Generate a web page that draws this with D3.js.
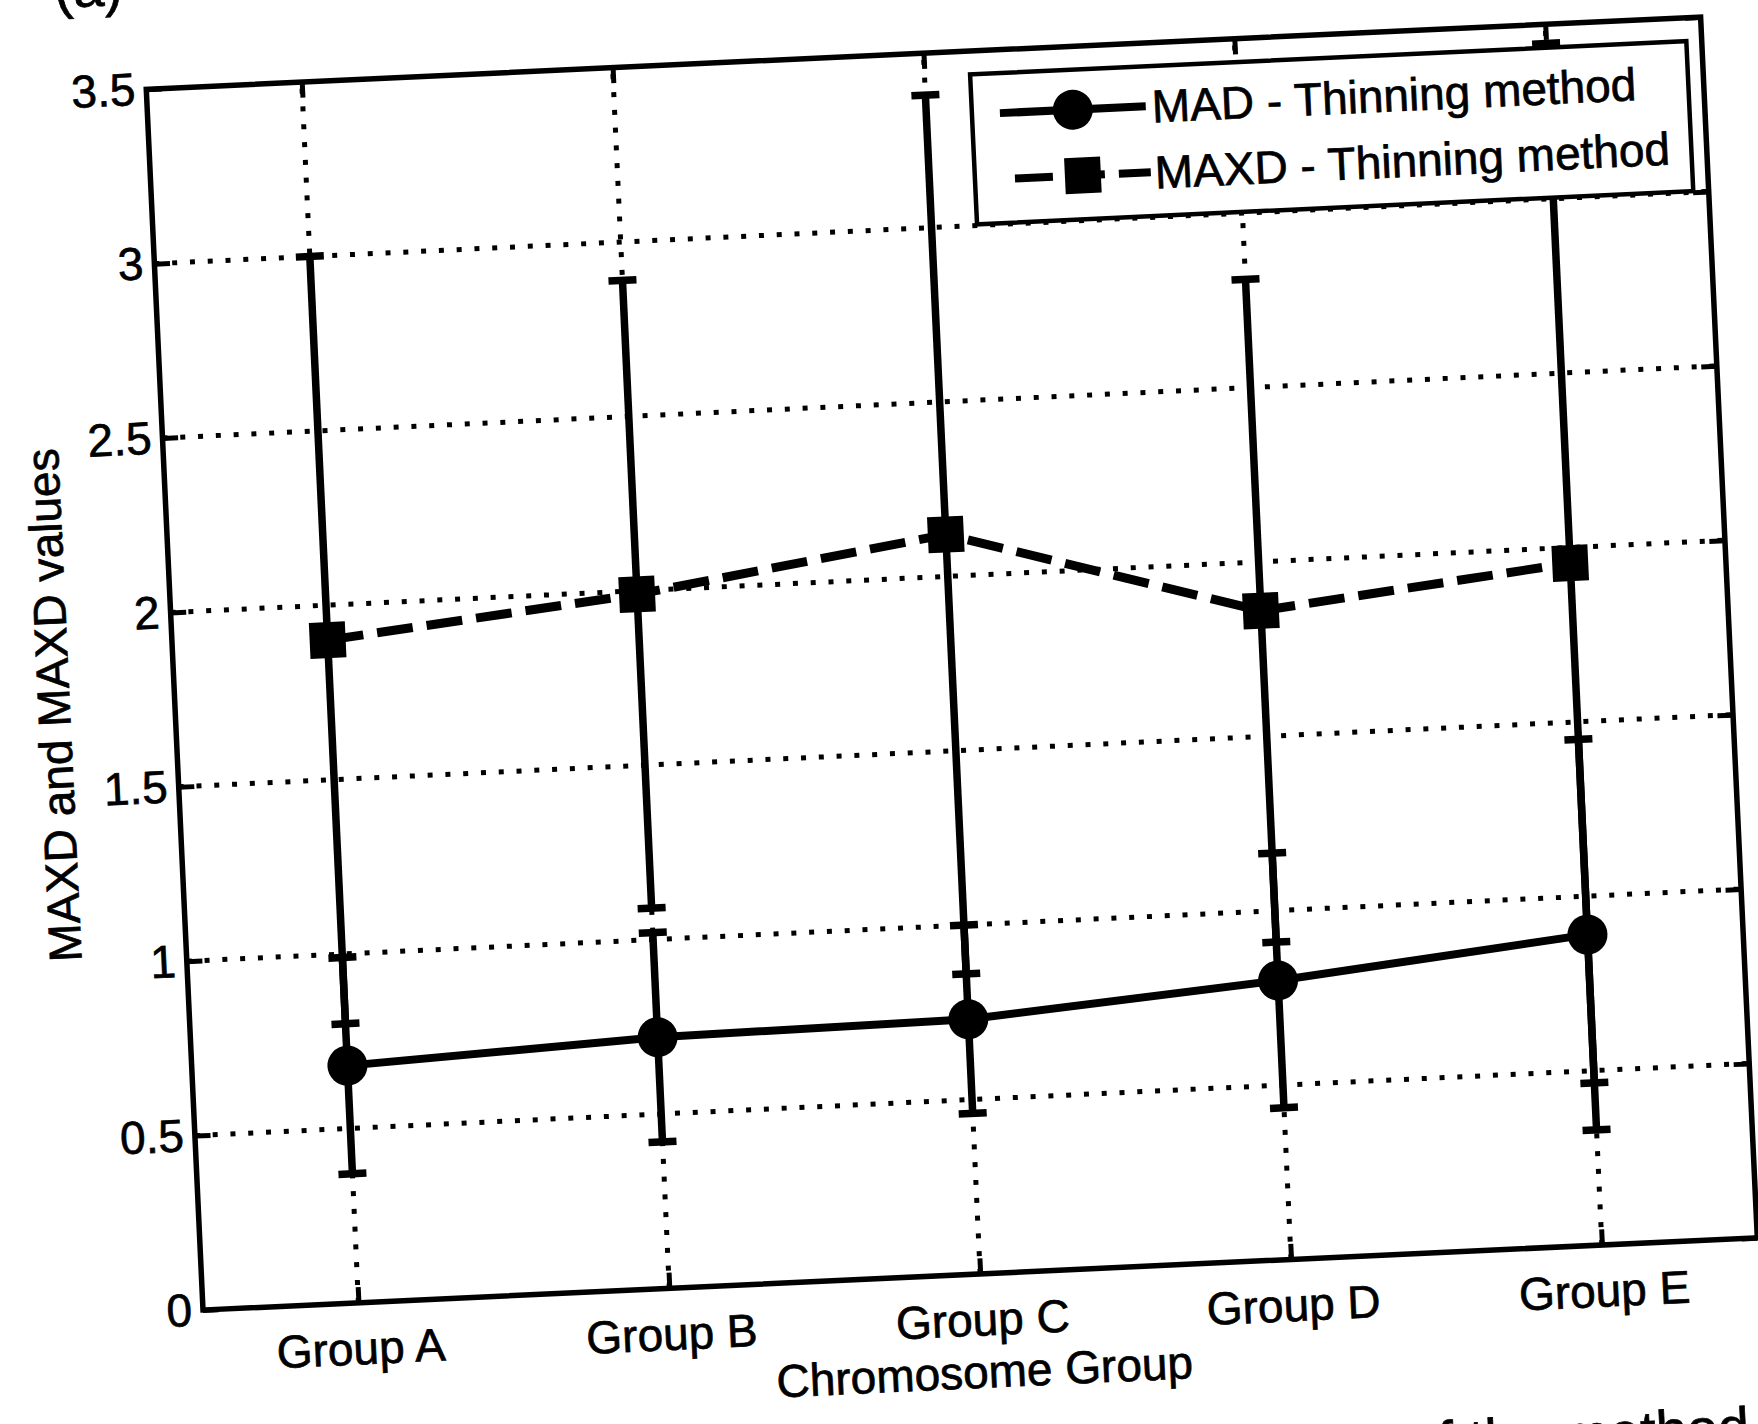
<!DOCTYPE html>
<html>
<head>
<meta charset="utf-8">
<script src="https://cdn.jsdelivr.net/npm/d3@7"></script>
<style>
  html, body { margin: 0; padding: 0; background: #fff; }
  svg { display: block; }
  text { font-family: "Liberation Sans", Arial, Helvetica, sans-serif; fill: #000;
         stroke: #000; stroke-width: 0.7px; }
</style>
</head>
<body>
<svg id="chart" width="1758" height="1424"></svg>
<script>
// ---- data ----
const groups    = ["Group A", "Group B", "Group C", "Group D", "Group E"];
const madMean   = [0.68, 0.72, 0.73, 0.80, 0.89];
const madErr    = [0.31, 0.30, 0.27, 0.365, 0.56];
const maxdMean  = [1.90, 1.99, 2.12, 1.86, 1.955];
const maxdErr   = [1.10, 0.90, 1.26, 0.95, 1.49];
const yTicks    = [0, 0.5, 1, 1.5, 2, 2.5, 3, 3.5];
const yTickText = ["0", "0.5", "1", "1.5", "2", "2.5", "3", "3.5"];
const seriesNames = ["MAD - Thinning method", "MAXD - Thinning method"];
const xTitle = "Chromosome Group";
const yTitle = "MAXD and MAXD values";
const panelTag = "(a)";
const captionTail = "of the method";

// ---- layout ----
const W = 1556, H = 1222;          // plot box
const ox = 203, oy = 1310;         // bottom-left corner of the box on the page
const tilt = -2.66;                // the printed figure sits slightly rotated
const tickLen = 15.6;
const fontSize = 46;

const svg = d3.select("#chart");
svg.append("rect").attr("width", 1758).attr("height", 1424).attr("fill", "#fff");

const g = svg.append("g")
  .attr("transform", `rotate(${tilt},${ox},${oy}) translate(${ox},${oy - H})`);

const x = d3.scaleLinear().domain([0.5, 5.5]).range([0, W]);
const y = d3.scaleLinear().domain([0, 3.5]).range([H, 0]);
const xIdx = groups.map((_, i) => i + 1);

// ---- dotted grid ----
const grid = g.append("g").attr("stroke", "#000").attr("stroke-width", 5)
  .attr("stroke-dasharray", "5 12.8").attr("fill", "none");
grid.selectAll("line.gy").data(yTicks.filter(v => v > 0 && v < 3.5)).join("line")
  .attr("class", "gy")
  .attr("x1", 0).attr("x2", W)
  .attr("y1", d => y(d)).attr("y2", d => y(d));
grid.selectAll("line.gx").data(xIdx).join("line")
  .attr("class", "gx")
  .attr("x1", d => x(d)).attr("x2", d => x(d))
  .attr("y1", H).attr("y2", 0);

// ---- axes (ticks pointing inward on all four sides) ----
function styleAxis(sel) {
  sel.select(".domain").remove();
  sel.selectAll(".tick line").attr("stroke", "#000").attr("stroke-width", 5);
  sel.selectAll(".tick text").attr("font-size", fontSize).attr("fill", "#000");
}
g.append("g")
  .call(d3.axisLeft(y).tickValues(yTicks).tickFormat((d, i) => yTickText[i])
    .tickSize(-tickLen).tickPadding(11))
  .call(styleAxis)
  .attr("font-family", null);
g.append("g").attr("transform", `translate(${W},0)`)
  .call(d3.axisRight(y).tickValues(yTicks).tickFormat("").tickSize(-tickLen))
  .call(styleAxis);
g.append("g").attr("transform", `translate(0,${H})`)
  .call(d3.axisBottom(x).tickValues(xIdx).tickFormat((d) => groups[d - 1])
    .tickSize(-tickLen).tickPadding(29))
  .call(styleAxis)
  .attr("font-family", null);
g.append("g")
  .call(d3.axisTop(x).tickValues(xIdx).tickFormat("").tickSize(-tickLen))
  .call(styleAxis);

// ---- error bars ----
function errorBars(mean, err) {
  const eb = g.append("g").attr("stroke", "#000").attr("stroke-width", 7.5).attr("fill", "none");
  const cap = 14;
  mean.forEach((m, i) => {
    const cx = x(i + 1);
    eb.append("line").attr("x1", cx).attr("x2", cx)
      .attr("y1", y(m - err[i])).attr("y2", y(m + err[i]));
    [m - err[i], m + err[i]].forEach(v => {
      eb.append("line").attr("x1", cx - cap).attr("x2", cx + cap)
        .attr("y1", y(v)).attr("y2", y(v));
    });
  });
}
errorBars(maxdMean, maxdErr);
errorBars(madMean, madErr);

// ---- series lines ----
const line = d3.line().x((d, i) => x(i + 1)).y(d => y(d));
g.append("path").datum(maxdMean).attr("d", line)
  .attr("fill", "none").attr("stroke", "#000").attr("stroke-width", 9)
  .attr("stroke-dasharray", "36 14");
g.append("path").datum(madMean).attr("d", line)
  .attr("fill", "none").attr("stroke", "#000").attr("stroke-width", 8);

// ---- markers ----
const sq = 36;
g.selectAll("rect.sq").data(maxdMean).join("rect").attr("class", "sq")
  .attr("x", (d, i) => x(i + 1) - sq / 2).attr("y", d => y(d) - sq / 2)
  .attr("width", sq).attr("height", sq).attr("fill", "#000");
g.selectAll("circle.mk").data(madMean).join("circle").attr("class", "mk")
  .attr("cx", (d, i) => x(i + 1)).attr("cy", d => y(d)).attr("r", 20).attr("fill", "#000");

// ---- plot box ----
g.append("rect").attr("x", 0).attr("y", 0).attr("width", W).attr("height", H)
  .attr("fill", "none").attr("stroke", "#000").attr("stroke-width", 5.5);

// ---- axis titles ----
g.append("text").attr("x", W / 2).attr("y", H + 114)
  .attr("text-anchor", "middle").attr("font-size", fontSize).text(xTitle);
g.append("text").attr("transform", `translate(-105,${H / 2}) rotate(-90)`)
  .attr("text-anchor", "middle").attr("font-size", fontSize).text(yTitle);

// ---- legend ----
const legW = 717, legH = 150;
const leg = g.append("g").attr("transform", `translate(${W - 15.4 - legW},23.4)`);
leg.append("rect").attr("width", legW).attr("height", legH)
  .attr("fill", "#fff").attr("stroke", "#000").attr("stroke-width", 4.5);
const rows = [40, 106];
// row 1: solid line with circle
leg.append("line").attr("x1", 28).attr("x2", 174).attr("y1", rows[0]).attr("y2", rows[0])
  .attr("stroke", "#000").attr("stroke-width", 8);
leg.append("circle").attr("cx", 101).attr("cy", rows[0]).attr("r", 20).attr("fill", "#000");
// row 2: dashed line with square
leg.append("line").attr("x1", 40).attr("x2", 176).attr("y1", rows[1]).attr("y2", rows[1])
  .attr("stroke", "#000").attr("stroke-width", 8).attr("stroke-dasharray", "38 14");
leg.append("rect").attr("x", 108 - sq / 2).attr("y", rows[1] - sq / 2)
  .attr("width", sq).attr("height", sq).attr("fill", "#000");
seriesNames.forEach((s, i) => {
  leg.append("text").attr("x", 180).attr("y", rows[i] + 16.5)
    .attr("font-size", fontSize).text(s);
});

// ---- page text around the figure: panel tag above, caption line below ----
const serif = "'Liberation Serif', 'DejaVu Serif', serif";
svg.append("text").attr("transform", `rotate(${tilt},55,8)`)
  .attr("x", 55).attr("y", 8)
  .attr("font-family", serif).attr("stroke-width", 0)
  .attr("font-size", 56).text(panelTag);
svg.append("text").attr("transform", `rotate(${tilt},1750,1446)`)
  .attr("x", 1750).attr("y", 1446).attr("text-anchor", "end")
  .attr("font-family", serif).attr("stroke-width", 0)
  .attr("font-size", 56).text(captionTail);
</script>
</body>
</html>
